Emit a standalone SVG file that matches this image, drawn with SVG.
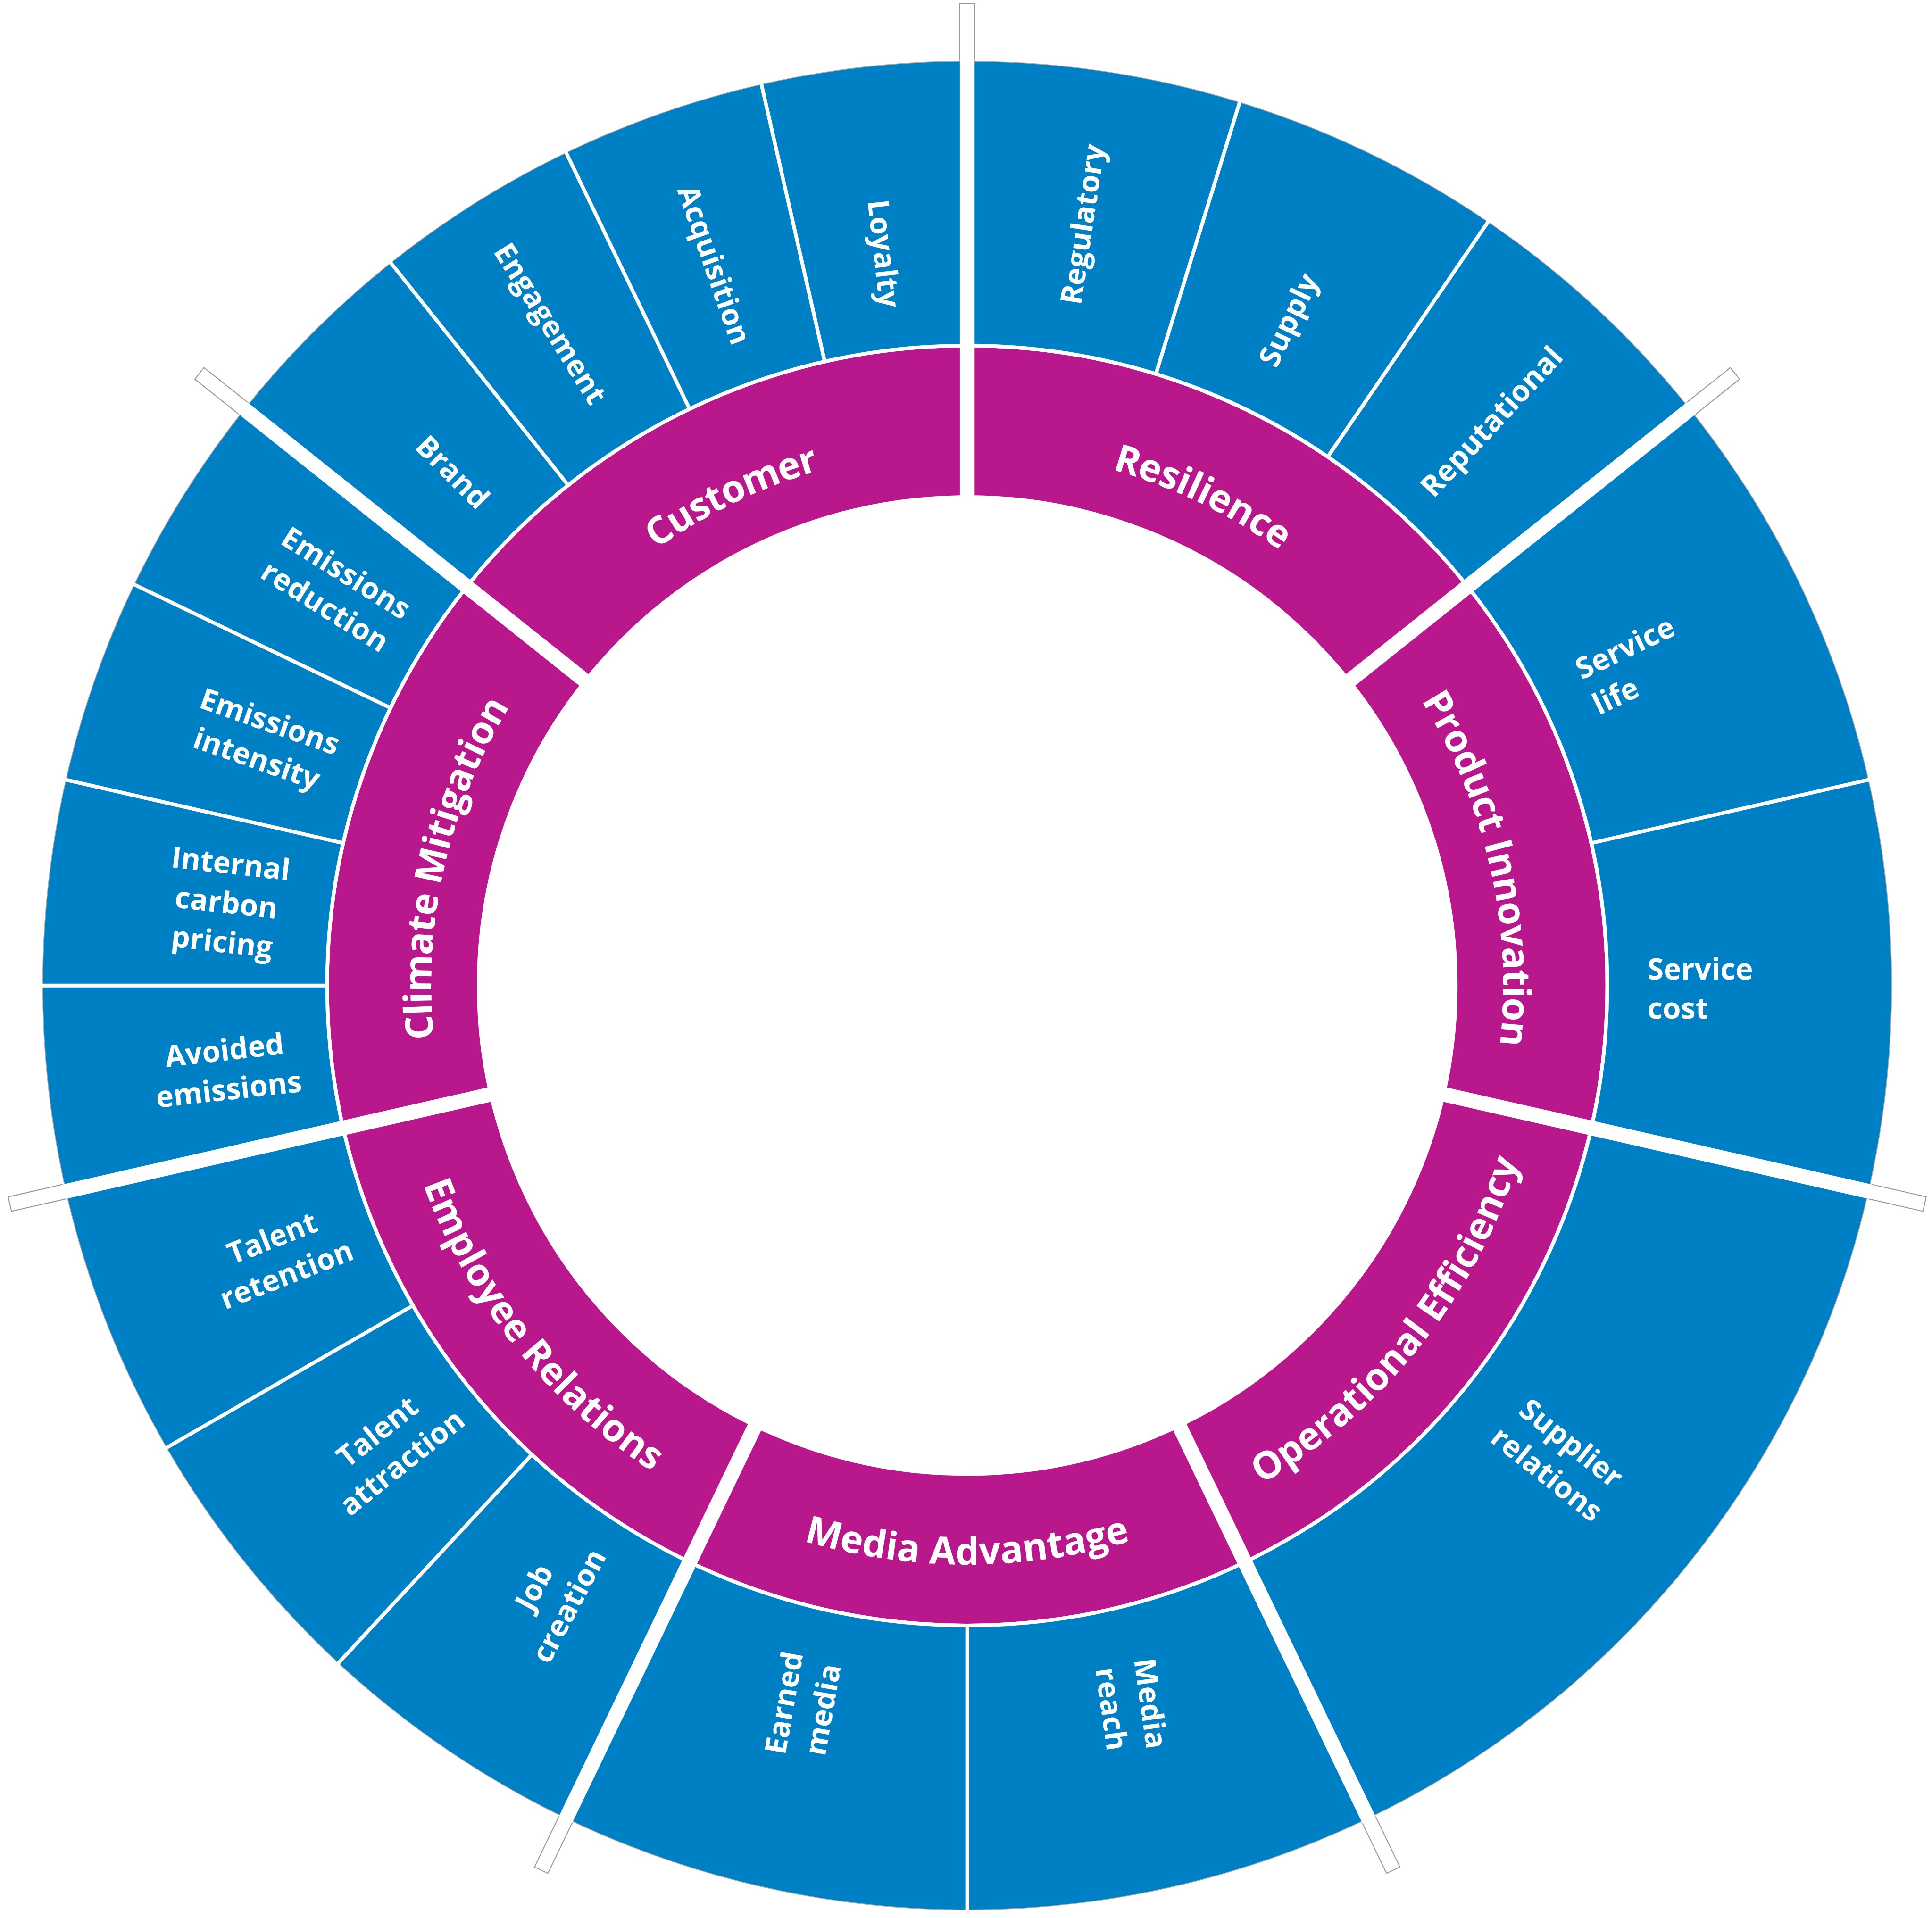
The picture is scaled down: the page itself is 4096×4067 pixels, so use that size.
<svg xmlns="http://www.w3.org/2000/svg" width="4096" height="4067" viewBox="0 0 4096 4067">
<defs>
<style>
.m{font-family:"Open Sans","Liberation Sans",sans-serif;font-weight:700;font-size:31px;fill:#fff}
.b{font-family:"Open Sans","Liberation Sans",sans-serif;font-weight:700;font-size:24px;fill:#fff;text-anchor:middle}
.sub{stroke:#fff;stroke-width:3}
.gap{stroke:#fff;stroke-width:12}
.stub{fill:#fff;stroke:#999;stroke-width:0.8}
</style>
<path id="pCu" d="M436.3,521.9 A446,446 0 0 1 785,354"/>
<path id="pRe" d="M785,354 A446,446 0 0 1 1133.7,521.9"/>
<path id="pPr" d="M1133.7,521.9 A446,446 0 0 1 1219.8,899.2"/>
<path id="pCl" d="M350.2,899.2 A446,446 0 0 1 436.3,521.9"/>
<path id="pOE" d="M988.9,1223.5 A470,470 0 0 0 1243.2,904.6"/>
<path id="pMe" d="M581.1,1223.5 A470,470 0 0 0 988.9,1223.5"/>
<path id="pEm" d="M326.8,904.6 A470,470 0 0 0 581.1,1223.5"/>
</defs>
<rect width="4096" height="4067" fill="#fff"/>
<g transform="scale(2.6122)">
<g id="stubs">
<rect class="stub" x="779" y="3" width="12" height="50" transform="rotate(0 785 800)"/>
<rect class="stub" x="779" y="3" width="12" height="50" transform="rotate(51.43 785 800)"/>
<rect class="stub" x="779" y="3" width="12" height="50" transform="rotate(102.86 785 800)"/>
<rect class="stub" x="779" y="3" width="12" height="50" transform="rotate(154.29 785 800)"/>
<rect class="stub" x="779" y="3" width="12" height="50" transform="rotate(205.71 785 800)"/>
<rect class="stub" x="779" y="3" width="12" height="50" transform="rotate(257.14 785 800)"/>
<rect class="stub" x="779" y="3" width="12" height="50" transform="rotate(308.57 785 800)"/>
</g>
<g id="rings">
<circle cx="785" cy="800" r="750" fill="none" stroke="#aaa" stroke-width="1.2"/>
<circle cx="785" cy="800" r="634.5" fill="none" stroke="#0080C4" stroke-width="231"/>
<circle cx="785" cy="800" r="458" fill="none" stroke="#B8188C" stroke-width="120"/>
<circle cx="785" cy="800" r="519.5" fill="none" stroke="#fff" stroke-width="3"/>
</g>
<g id="connectors">
<g class="sub">
<line x1="785" y1="282" x2="785" y2="46" transform="rotate(321.43 785 800)"/>
<line x1="785" y1="282" x2="785" y2="46" transform="rotate(334.29 785 800)"/>
<line x1="785" y1="282" x2="785" y2="46" transform="rotate(347.14 785 800)"/>
<line x1="785" y1="282" x2="785" y2="46" transform="rotate(17.14 785 800)"/>
<line x1="785" y1="282" x2="785" y2="46" transform="rotate(34.29 785 800)"/>
<line x1="785" y1="282" x2="785" y2="46" transform="rotate(77.14 785 800)"/>
<line x1="785" y1="282" x2="785" y2="46" transform="rotate(180 785 800)"/>
<line x1="785" y1="282" x2="785" y2="46" transform="rotate(222.86 785 800)"/>
<line x1="785" y1="282" x2="785" y2="46" transform="rotate(240 785 800)"/>
<line x1="785" y1="282" x2="785" y2="46" transform="rotate(270 785 800)"/>
<line x1="785" y1="282" x2="785" y2="46" transform="rotate(282.86 785 800)"/>
<line x1="785" y1="282" x2="785" y2="46" transform="rotate(295.71 785 800)"/>
</g>
<g class="gap">
<line x1="785" y1="405" x2="785" y2="48" transform="rotate(0 785 800)"/>
<line x1="785" y1="405" x2="785" y2="48" transform="rotate(51.43 785 800)"/>
<line x1="785" y1="405" x2="785" y2="48" transform="rotate(102.86 785 800)"/>
<line x1="785" y1="405" x2="785" y2="48" transform="rotate(154.29 785 800)"/>
<line x1="785" y1="405" x2="785" y2="48" transform="rotate(205.71 785 800)"/>
<line x1="785" y1="405" x2="785" y2="48" transform="rotate(257.14 785 800)"/>
<line x1="785" y1="405" x2="785" y2="48" transform="rotate(308.57 785 800)"/>
</g>
</g>
<g id="customer"><text class="m" dy="11" text-anchor="middle"><textPath href="#pCu" startOffset="50%">Customer</textPath></text></g>
<g id="resilience"><text class="m" dy="11" text-anchor="middle"><textPath href="#pRe" startOffset="50%">Resilience</textPath></text></g>
<g id="product-innovation"><text class="m" dy="11" text-anchor="middle"><textPath href="#pPr" startOffset="50%">Product Innovation</textPath></text></g>
<g id="operational-efficiency"><text class="m" dy="0" text-anchor="middle"><textPath href="#pOE" startOffset="50%">Operational Efficiency</textPath></text></g>
<g id="media-advantage"><text class="m" text-anchor="middle"><textPath href="#pMe" startOffset="50%">Media Advantage</textPath></text></g>
<g id="employee-relations"><text class="m" text-anchor="middle"><textPath href="#pEm" startOffset="50%">Employee Relations</textPath></text></g>
<g id="climate-mitigation"><text class="m" dy="11" text-anchor="middle"><textPath href="#pCl" startOffset="50%">Climate Mitigation</textPath></text></g>

<g id="brand" transform="translate(367.8,382.8) rotate(45)"><text class="b" y="9">Brand</text></g>
<g id="engagement" transform="translate(447.2,262.3) rotate(57.86)"><text class="b" y="9">Engagement</text></g>
<g id="acquisition" transform="translate(580.2,214.8) rotate(70.71)"><text class="b" y="9">Acquisition</text></g>
<g id="loyalty" transform="translate(718,205.8) rotate(83.57)"><text class="b" y="9">Loyalty</text></g>
<g id="regulatory" transform="translate(878.1,182) rotate(-81.43)"><text class="b" y="9">Regulatory</text></g>
<g id="supply" transform="translate(1045.3,259.4) rotate(-64.29)"><text class="b" y="9">Supply</text></g>
<g id="reputational" transform="translate(1210.1,341.8) rotate(-47.14)"><text class="b" y="9">Reputational</text></g>
<g id="service-life" transform="translate(1330.1,537.5) rotate(-25.71)"><text class="b" style="text-anchor:start"><tspan x="-48" y="-7">Service</tspan><tspan x="-48" y="25">life</tspan></text></g>
<g id="service-cost" transform="translate(1390,800) rotate(0)"><text class="b" style="text-anchor:start"><tspan x="-53" y="-5">Service</tspan><tspan x="-53" y="27">cost</tspan></text></g>
<g id="supplier-relations" transform="translate(1265.8,1183.5) rotate(38.57)"><text class="b"><tspan x="0" y="-7">Supplier</tspan><tspan x="0" y="25">relations</tspan></text></g>
<g id="media-reach" transform="translate(918.5,1384.9) rotate(82)"><text class="b"><tspan x="0" y="-7">Media</tspan><tspan x="0" y="25">reach</tspan></text></g>
<g id="earned-media" transform="translate(651.5,1384.9) rotate(-80)"><text class="b"><tspan x="0" y="-7">Earned</tspan><tspan x="0" y="25">media</tspan></text></g>
<g id="job-creation" transform="translate(447,1295.7) rotate(-62)"><text class="b"><tspan x="0" y="-7">Job</tspan><tspan x="0" y="25">creation</tspan></text></g>
<g id="talent-attraction" transform="translate(315.9,1174.1) rotate(-38.57)"><text class="b"><tspan x="0" y="-7">Talent</tspan><tspan x="0" y="25">attraction</tspan></text></g>
<g id="talent-retention" transform="translate(226.5,1019.2) rotate(-21.43)"><text class="b"><tspan x="0" y="-7">Talent</tspan><tspan x="0" y="25">retention</tspan></text></g>
<g id="avoided-emissions" transform="translate(183.8,867.8) rotate(-6.43)"><text class="b"><tspan x="0" y="-7">Avoided</tspan><tspan x="0" y="25">emissions</tspan></text></g>
<g id="internal-carbon-pricing" transform="translate(183.8,732.2) rotate(6.43)"><text class="b"><tspan x="0" y="-23">Internal</tspan><tspan x="0" y="9">carbon</tspan><tspan x="0" y="41">pricing</tspan></text></g>
<g id="emissions-intensity" transform="translate(213.9,600.2) rotate(19.29)"><text class="b"><tspan x="0" y="-7">Emissions</tspan><tspan x="0" y="25">intensity</tspan></text></g>
<g id="emissions-reduction" transform="translate(272.7,478.1) rotate(32.14)"><text class="b"><tspan x="0" y="-7">Emissions</tspan><tspan x="0" y="25">reduction</tspan></text></g>
</g>
</svg>
